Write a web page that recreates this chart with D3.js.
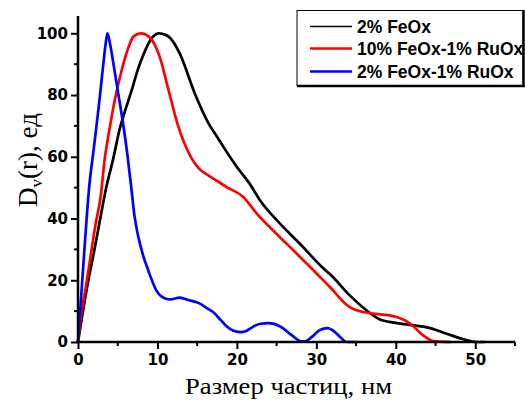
<!DOCTYPE html>
<html>
<head>
<meta charset="utf-8">
<script src="https://cdn.jsdelivr.net/npm/d3@7"></script>
<style>
    body { margin: 0; background: #fff; }
    svg { display: block; }
</style>
</head>
<body>
<script>
// series names, legend order
var seriesNames = ['2% FeOx', '10% FeOx-1% RuOx', '2% FeOx-1% RuOx'];
var seriesColors = ['#000000', '#ff0000', '#0000ff'];

// [size nm, Dv]
var feox2 = [[0,0],[0.5,8],[1.3,20],[2.0,29],[2.8,40],[3.5,49.4],[4.4,59],[5.3,69.5],[6.0,75.5],[6.75,81.5],[7.5,88],[8.3,93.5],[9.3,98.5],[10.2,100],[11.0,99.5],[11.6,98.5],[12.8,93.5],[14.7,80.5],[16.5,70.5],[17.5,66.5],[18.3,63.2],[20,56.7],[21.6,51.3],[22.9,45.9],[25.4,38.4],[27.9,31.9],[30.9,23.8],[31.7,22],[34.2,15.1],[36.3,10.3],[38,7.3],[39.2,6.5],[41.3,5.7],[44.3,4.5],[46.4,2.7],[48.5,0.9],[50.2,0],[51.2,0]];
var feox10ru1 = [[0,0],[0.4,9],[1.0,18],[1.6,28],[2.2,38],[2.9,48],[3.3,58],[3.9,68],[4.6,78],[5.3,86],[6.1,93.5],[7.0,99],[7.9,100],[9.1,98.5],[10.2,93],[11.5,80.5],[12.6,70],[14.3,59.5],[15.3,56],[16.4,54],[17.6,52],[18.7,50.2],[20.8,47],[22.5,41.6],[25,35],[27.1,29.7],[29.4,23.8],[31.7,17.8],[34.2,11.3],[35.9,9.7],[37.1,9.2],[39.2,8.6],[40.1,8.1],[41.8,6],[43.4,2.2],[44.7,0.3],[47,0]];
var feox2ru1 = [[0,0],[0.7,26],[1.4,50],[2.0,63],[2.6,76],[3.1,88],[3.45,96],[3.7,100],[4.0,97],[4.5,89.5],[5.0,81.5],[5.6,72],[6.2,61],[6.75,49],[7.1,41],[7.6,34],[8.2,28],[8.8,23.5],[9.3,20],[9.8,17],[10.3,15.2],[11,14.1],[11.6,13.8],[12.8,14.4],[14,13.5],[15.3,12.5],[16.2,11],[17,9.7],[18,7],[18.7,5.1],[19.5,3.7],[20.4,3.2],[21.2,3.6],[22,4.9],[23,5.9],[24,6.1],[25.4,5.1],[26.9,2.2],[28.1,0.2],[28.7,0.3],[29.4,1.6],[30.4,3.8],[31.4,4.5],[32.3,3.3],[33,1.6],[33.8,0],[35,0]];

var xTicks = [0, 10, 20, 30, 40, 50];
var yTicks = [0, 20, 40, 60, 80, 100];
var xMinor = [5, 15, 25, 35, 45, 55];
var yMinor = [10, 30, 50, 70, 90];

var width = 525, height = 405;
var mLeft = 78, mRight = 515, mTop = 16, mBottom = 342;

var svg = d3.select('body').append('svg')
    .attr('width', width)
    .attr('height', height);

var x = d3.scaleLinear().domain([0, 55]).range([mLeft, mRight]);
var y = d3.scaleLinear().domain([0, 105.6]).range([mBottom, mTop]);

// curves
var line = d3.line()
    .x(d => x(d[0]))
    .y(d => y(d[1]))
    .curve(d3.curveMonotoneX);

var all = [feox2, feox10ru1, feox2ru1];
svg.append('g')
    .selectAll('path')
    .data(all).enter()
    .append('path')
    .attr('d', line)
    .attr('fill', 'none')
    .attr('stroke', (d, i) => seriesColors[i])
    .attr('stroke-width', 2.7)
    .attr('stroke-linejoin', 'round');

//axisx
var axisx = d3.axisBottom(x).tickValues(xTicks).tickSize(7).tickPadding(5);
var gx = svg.append('g')
    .attr('transform', `translate(0,${mBottom})`)
    .call(axisx);
gx.append('g').selectAll('line')
    .data(xMinor).enter()
    .append('line')
    .attr('x1', d => x(d)).attr('x2', d => x(d))
    .attr('y1', 0).attr('y2', 4)
    .attr('stroke', '#000').attr('stroke-width', 2);

//axisy
var axisy = d3.axisLeft(y).tickValues(yTicks).tickSize(7).tickPadding(3);
var gy = svg.append('g')
    .attr('transform', `translate(${mLeft},0)`)
    .call(axisy);
gy.append('g').selectAll('line')
    .data(yMinor).enter()
    .append('line')
    .attr('x1', 0).attr('x2', -4)
    .attr('y1', d => y(d)).attr('y2', d => y(d))
    .attr('stroke', '#000').attr('stroke-width', 2);

[gx, gy].forEach(g => {
    g.select('.domain').attr('stroke', '#000').attr('stroke-width', 2.5);
    g.selectAll('.tick line').attr('stroke', '#000').attr('stroke-width', 2);
    g.selectAll('.tick text')
        .attr('fill', '#000')
        .style('font-family', '"DejaVu Sans", sans-serif')
        .style('font-weight', 'bold')
        .style('font-size', '15px');
});
gx.select('.domain').attr('d', `M${mLeft},0H${mRight}`);
gy.select('.domain').attr('d', `M0,${mBottom}V${mTop}`);

// titles
svg.append('text')
    .attr('x', 185)
    .attr('y', 394)
    .attr('textLength', 207)
    .attr('lengthAdjust', 'spacingAndGlyphs')
    .style('font-family', '"Liberation Serif", "Times New Roman", serif')
    .style('font-size', '23px')
    .text('Размер частиц, нм');

var yt = svg.append('text')
    .attr('transform', 'translate(37,160) rotate(-90)')
    .attr('text-anchor', 'middle')
    .style('font-family', '"Liberation Serif", "Times New Roman", serif')
    .style('font-size', '27px');
yt.append('tspan').text('D');
yt.append('tspan').attr('dy', 5).style('font-size', '17px').text('v');
yt.append('tspan').attr('dy', -5).text('(r), ед');

// legend
var lg = svg.append('g');
lg.append('rect')
    .attr('x', 297).attr('y', 10.5)
    .attr('width', 226).attr('height', 75)
    .attr('fill', '#fff').attr('stroke', '#000').attr('stroke-width', 1);
lg.append('line')
    .attr('x1', 297).attr('x2', 525).attr('y1', 86).attr('y2', 86)
    .attr('stroke', '#000').attr('stroke-width', 2.5);
lg.append('line')
    .attr('x1', 523.5).attr('x2', 523.5).attr('y1', 10).attr('y2', 87)
    .attr('stroke', '#000').attr('stroke-width', 2.5);

var rowY = [26.5, 48.5, 71.5];
var rows = lg.selectAll('g.row')
    .data(seriesNames).enter()
    .append('g')
    .attr('transform', (d, i) => `translate(0,${rowY[i]})`);
rows.append('line')
    .attr('x1', 310).attr('x2', 352)
    .attr('stroke', (d, i) => seriesColors[i])
    .attr('stroke-width', (d, i) => i == 0 ? 1.5 : 2.5);
rows.append('text')
    .attr('x', 357).attr('y', 6)
    .style('font-family', '"Liberation Sans", Arial, sans-serif')
    .style('font-weight', 'bold')
    .style('font-size', '17.5px')
    .text(d => d);
</script>
</body>
</html>
